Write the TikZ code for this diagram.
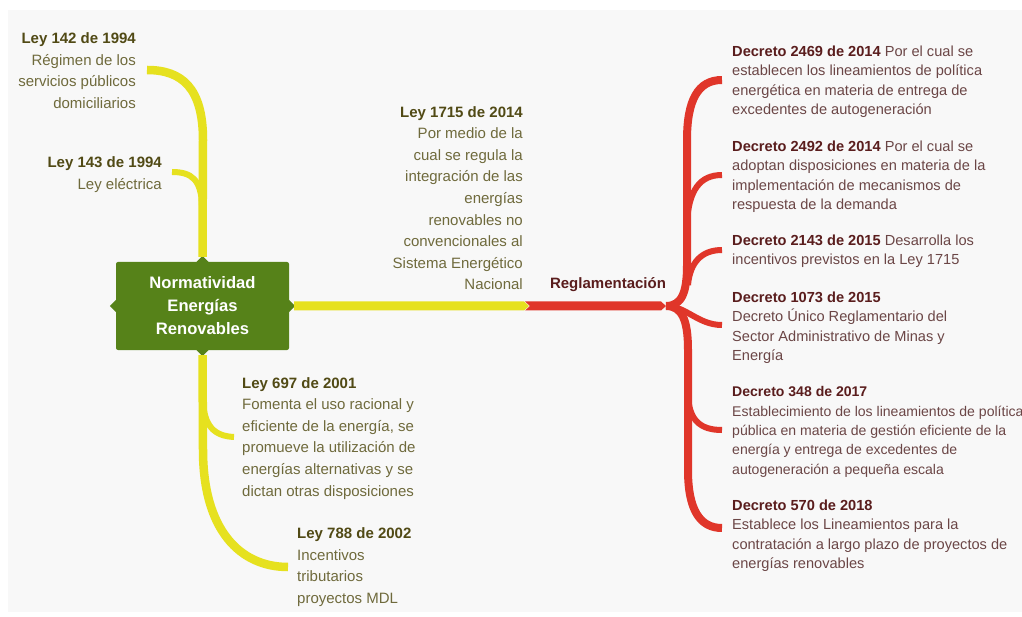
\documentclass[tikz,border=0pt]{standalone}
\usepackage{fontspec}
\setmainfont{Liberation Sans}
\definecolor{bg}{HTML}{F8F8F8}
\definecolor{ylw}{HTML}{E6E11F}
\definecolor{rd}{HTML}{E0362A}
\definecolor{grn}{HTML}{568219}
\definecolor{lhead}{HTML}{514A15}
\definecolor{lbody}{HTML}{6F6A3C}
\definecolor{rhead}{HTML}{5A1D1D}
\definecolor{rbody}{HTML}{6B4646}
\begin{document}
\begin{tikzpicture}[x=1pt,y=1pt,
  ltxt/.style={inner sep=0pt, font=\fontsize{15}{21.6}\selectfont, text=lbody},
  rtxt/.style={inner sep=0pt, font=\fontsize{14.6}{19.5}\selectfont, text=rbody, align=left, anchor=north west},
  ybr/.style={draw=ylw, line width=6pt},
  ytr/.style={draw=ylw, line width=8.5pt},
  rbr/.style={draw=rd, line width=6pt},
  rtr/.style={draw=rd, line width=8pt},
]
\useasboundingbox (0,0) rectangle (1022,-617);
\fill[white] (0,0) rectangle (1022,-617);
\fill[bg] (8,-10) rectangle (1022,-612);

% central node
\node[fill=grn, minimum width=173pt, minimum height=88pt, rounded corners=2pt, text=white,
      font=\bfseries\fontsize{16.6}{23}\selectfont, align=center, inner sep=0pt] (c) at (202.5,-306)
      {Normatividad\\Energías\\Renovables};
\fill[grn] ([xshift=-6pt]c.north) -- ([yshift=6pt]c.north) -- ([xshift=6pt]c.north) -- cycle;
\fill[grn] ([xshift=-6pt]c.south) -- ([yshift=-6pt]c.south) -- ([xshift=6pt]c.south) -- cycle;
\fill[grn] ([yshift=-6pt]c.west) -- ([xshift=-6pt]c.west) -- ([yshift=6pt]c.west) -- cycle;
\fill[grn] ([yshift=-6pt]c.east) -- ([xshift=6pt]c.east) -- ([yshift=6pt]c.east) -- cycle;
\coordinate (ct) at ([yshift=5pt]c.north);
\coordinate (cb) at ([yshift=-5pt]c.south);
\coordinate (cr) at ([xshift=5pt]c.east);

% left texts
\node[ltxt, align=right, anchor=north east] (t142) at (136,-32.5)
  {\textcolor{lhead}{\bfseries Ley 142 de 1994}\\Régimen de los\\servicios públicos\\domiciliarios};
\node[ltxt, align=right, anchor=north east] (t143) at (162,-156.5)
  {\textcolor{lhead}{\bfseries Ley 143 de 1994}\\Ley eléctrica};
\node[ltxt, align=left, anchor=north west] (t697) at (242,-377)
  {\textcolor{lhead}{\bfseries Ley 697 de 2001}\\Fomenta el uso racional y\\eficiente de la energía, se\\promueve la utilización de\\energías alternativas y se\\dictan otras disposiciones};
\node[ltxt, align=left, anchor=north west] (t788) at (297,-527.5)
  {\textcolor{lhead}{\bfseries Ley 788 de 2002}\\Incentivos\\tributarios\\proyectos MDL};
\node[ltxt, align=right, anchor=north east] (t1715) at (523,-106)
  {\textcolor{lhead}{\bfseries Ley 1715 de 2014}\\Por medio de la\\cual se regula la\\integración de las\\energías\\renovables no\\convencionales al\\Sistema Energético\\Nacional};
\node[inner sep=0pt, font=\bfseries\fontsize{15}{18}\selectfont, text=rhead] (regl) at (608,-285) {Reglamentación};

% right texts
\node[rtxt] (d2469) at (732,-45.5)
  {\textcolor{rhead}{\bfseries Decreto 2469 de 2014} Por el cual se\\establecen los lineamientos de política\\energética en materia de entrega de\\excedentes de autogeneración};
\node[rtxt] (d2492) at (732,-140.5)
  {\textcolor{rhead}{\bfseries Decreto 2492 de 2014} Por el cual se\\adoptan disposiciones en materia de la\\implementación de mecanismos de\\respuesta de la demanda};
\node[rtxt] (d2143) at (732,-234.5)
  {\textcolor{rhead}{\bfseries Decreto 2143 de 2015} Desarrolla los\\incentivos previstos en la Ley 1715};
\node[rtxt] (d1073) at (732,-291.5)
  {\textcolor{rhead}{\bfseries Decreto 1073 de 2015}\\Decreto Único Reglamentario del\\Sector Administrativo de Minas y\\Energía};
\node[rtxt, font=\fontsize{14.05}{19.3}\selectfont] (d348) at (732,-386.5)
  {\textcolor{rhead}{\bfseries Decreto 348 de 2017}\\Establecimiento de los lineamientos de política\\pública en materia de gestión eficiente de la\\energía y entrega de excedentes de\\autogeneración a pequeña escala};
\node[rtxt] (d570) at (732,-499.5)
  {\textcolor{rhead}{\bfseries Decreto 570 de 2018}\\Establece los Lineamientos para la\\contratación a largo plazo de proyectos de\\energías renovables};

% branch end coordinates
\coordinate (e142) at (147,-70);
\coordinate (e143) at (172,-172);
\coordinate (e697) at (234,-437);
\coordinate (e788) at (288,-567);
\coordinate (yend) at (529,-306);
\coordinate (rend) at (666,-306);
\coordinate (e2469) at (722,-80);
\coordinate (e2492) at (722,-175);
\coordinate (e2143) at (722,-250);
\coordinate (e1073) at (722,-325);
\coordinate (e348) at (722,-430);
\coordinate (e570) at (722,-528);

% yellow connectors
\draw[ytr] (ct) -- (203,-140) .. controls (203,-88) and (182,-70) .. (e142);
\draw[ybr] (e143) .. controls (192,-172) and (201,-180) .. (202,-205);
\draw[ytr] (cb) -- (203,-450) .. controls (203,-530) and (240,-567) .. (e788);
\draw[ybr] (e697) .. controls (214,-436) and (204,-426) .. (203,-400);
\fill[ylw] ([yshift=4.5pt]cr) -- ([xshift=-5pt,yshift=4.5pt]yend) -- (yend)
   -- ([xshift=-5pt,yshift=-4.5pt]yend) -- ([yshift=-4.5pt]cr) -- cycle;

% red connectors
\fill[rd] ([xshift=-4pt,yshift=4.5pt]yend) -- ([xshift=-5pt,yshift=4.5pt]rend) -- (rend)
   -- ([xshift=-5pt,yshift=-4.5pt]rend) -- ([xshift=-4pt,yshift=-4.5pt]yend) -- ([xshift=1pt]yend) -- cycle;
\draw[rtr] (rend) .. controls (682,-306) and (687,-292) .. (687,-265) -- (687,-140)
   .. controls (687,-100) and (698,-80) .. (e2469);
\draw[rbr] (e2492) .. controls (700,-175) and (689,-190) .. (687,-222);
\draw[rbr] (e2143) .. controls (702,-250) and (690,-262) .. (688,-285);
\draw[rtr] (rend) .. controls (682,-306) and (688,-320) .. (688,-350) -- (688,-470)
   .. controls (688,-510) and (700,-528) .. (e570);
\draw[rbr] (rend) .. controls (686,-306) and (698,-325) .. (e1073);
\draw[rbr] (688,-395) .. controls (689,-420) and (700,-430) .. (e348);
\end{tikzpicture}
\end{document}
